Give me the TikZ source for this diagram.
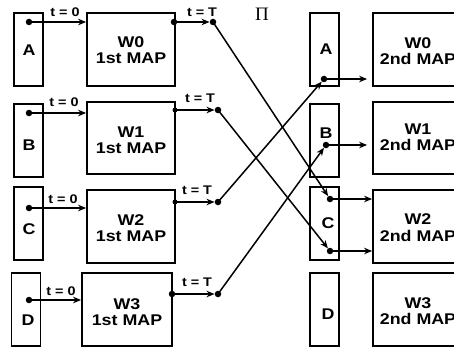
\documentclass[tikz,border=0pt]{standalone}
\usepackage{fontspec}
\setmainfont{Liberation Sans}[FakeStretch=1.15]
\newfontfamily\grserif{Liberation Serif}
\usetikzlibrary{arrows.meta}
\begin{document}
\begin{tikzpicture}[x=1pt,y=-1pt,
  box/.style={draw, line width=1.8pt, inner sep=0pt},
  lbox/.style={box, minimum width=29pt, minimum height=73pt},
  wbox/.style={box, minimum width=88pt, minimum height=73pt},
  dot/.style={circle, fill, inner sep=0pt, minimum size=6.5pt},
  lbl/.style={font=\bfseries\fontsize{15.5}{16.5}\selectfont, align=center, inner sep=0pt},
  tl/.style={font=\bfseries\fontsize{12.5}{13}\selectfont, inner sep=0pt},
  arr/.style={line width=1.5pt, -{Stealth[length=8pt,width=6.5pt]}}
]
\useasboundingbox (0,0) rectangle (454,350);
\clip (0,0) rectangle (454,350);
% left letter boxes
\node[lbox] (LA) at (28.5,49.5) {};
\node[lbox] (LB) at (28.5,140.5) {};
\node[lbox] (LC) at (28.5,223.5) {};
\node[lbox] (LD) at (26,309.5) {};
\node[lbl] (LAt) at (29,50) {A};
\node[lbl] (LBt) at (29,145) {B};
\node[lbl] (LCt) at (29,229) {C};
\node[lbl] (LDt) at (28,320) {D};
% first maps
\node[wbox] (W0a) at (131,49.5) {};
\node[wbox, minimum height=72pt] (W1a) at (131,138) {};
\node[wbox] (W2a) at (131,226.5) {};
\node[wbox, minimum width=90pt] (W3a) at (127,309.5) {};
\node[lbl] (W0at) at (131,50) {W0\\1st MAP};
\node[lbl] (W1at) at (131,140) {W1\\1st MAP};
\node[lbl] (W2at) at (131,228) {W2\\1st MAP};
\node[lbl] (W3at) at (127,312) {W3\\1st MAP};
% right letter boxes
\node[lbox] (RA) at (324.5,49.5) {};
\node[lbox] (RB) at (324.5,140.5) {};
\node[lbox] (RC) at (324.5,223.5) {};
\node[lbox] (RD) at (324.5,309.5) {};
\node[lbl] (RAt) at (326,49) {A};
\node[lbl] (RBt) at (326,133) {B};
\node[lbl] (RCt) at (328,223) {C};
\node[lbl] (RDt) at (328,314) {D};
% second maps
\node[wbox] (W0b) at (417,49.5) {};
\node[wbox, minimum height=72pt] (W1b) at (417,138) {};
\node[wbox] (W2b) at (417,226.5) {};
\node[wbox] (W3b) at (417,309.5) {};
\node[lbl] (W0bt) at (418,51) {W0\\2nd MAP};
\node[lbl] (W1bt) at (418,137) {W1\\2nd MAP};
\node[lbl] (W2bt) at (418,227.5) {W2\\2nd MAP};
\node[lbl] (W3bt) at (418,311) {W3\\2nd MAP};
% Pi
\node[font=\grserif\fontsize{19}{19}\selectfont, inner sep=0pt] (pi) at (262,14) {Π};
% dots
\node[dot] (a0) at (29,22) {};
\node[dot] (b0) at (29,113) {};
\node[dot] (c0) at (29,208) {};
\node[dot] (d0) at (29,300) {};
\node[dot] (w0r) at (174,22) {};
\node[dot, minimum size=5pt] (w1r) at (175,110) {};
\node[dot, minimum size=5pt] (w2r) at (175,202) {};
\node[dot] (w3r) at (172,294) {};
\node[dot] (tA) at (213,22) {};
\node[dot] (tB) at (218,110) {};
\node[dot] (tC) at (218,202) {};
\node[dot] (tD) at (218,294) {};
\node[dot] (rA) at (324,79) {};
\node[dot] (rB) at (326,145) {};
\node[dot] (rC1) at (330,199) {};
\node[dot] (rC2) at (330,251) {};
% t = 0 arrows
\draw[arr] (a0.center) -- (a0.center -| W0a.west);
\draw[arr] (b0.center) -- (b0.center -| W1a.west);
\draw[arr] (c0.center) -- (c0.center -| W2a.west);
\draw[arr] (d0.center) -- (d0.center -| W3a.west);
\node[tl] (t0a) at (65,12) {t = 0};
\node[tl] (t0b) at (64,102) {t = 0};
\node[tl] (t0c) at (63,199) {t = 0};
\node[tl] (t0d) at (61,291) {t = 0};
% t = T arrows
\draw[arr] (w0r.center) -- (tA.west);
\draw[arr] (w1r.center) -- (tB.west);
\draw[arr] (w2r.center) -- (tC.west);
\draw[arr] (w3r.center) -- (tD.west);
\node[tl] (tTa) at (202,12) {t = T};
\node[tl] (tTb) at (200,98) {t = T};
\node[tl] (tTc) at (197,190) {t = T};
\node[tl] (tTd) at (197,282) {t = T};
% permutation
\draw[arr] (tA.center) -- (rC1);
\draw[arr] (tB.center) -- (rC2);
\draw[arr] (tC.center) -- (rA);
\draw[arr] (tD.center) -- (rB);
% to second maps
\draw[arr, shorten >=5pt] (rA.center) -- (rA.center -| W0b.west);
\draw[arr, shorten >=5pt] (rB.center) -- (rB.center -| W1b.west);
\draw[arr] (rC1.center) -- (rC1.center -| W2b.west);
\draw[arr] (rC2.center) -- (rC2.center -| W2b.west);
\end{tikzpicture}
\end{document}
